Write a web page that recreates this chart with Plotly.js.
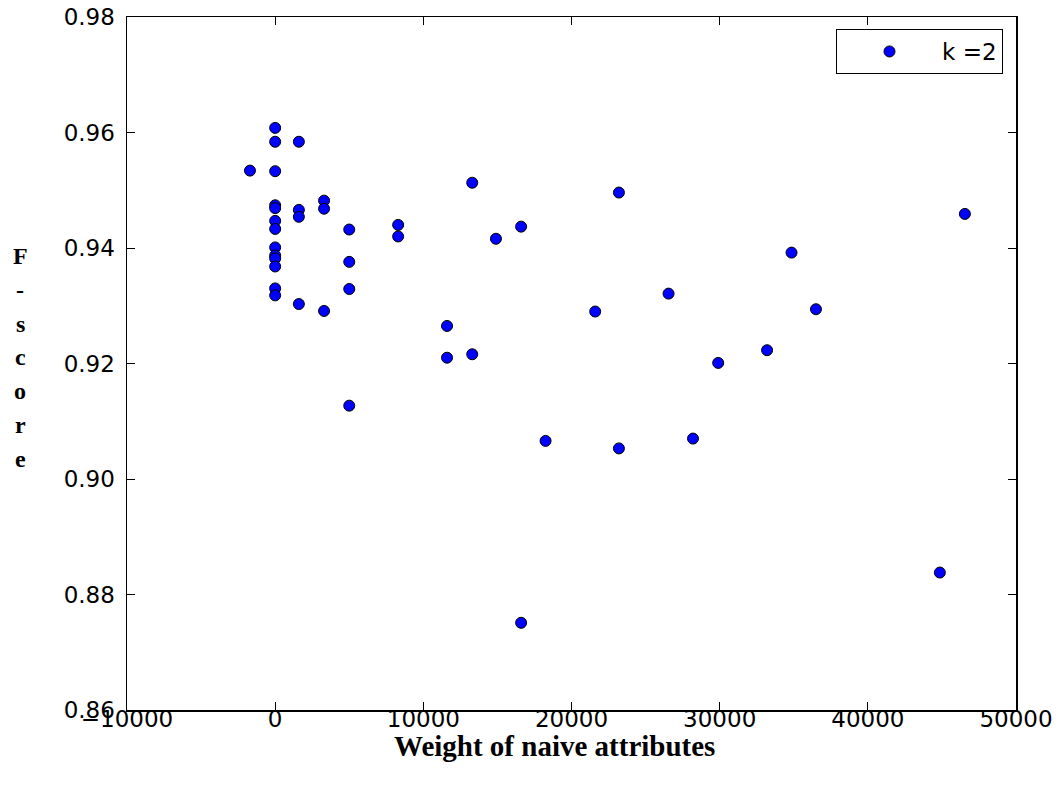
<!DOCTYPE html>
<html>
<head>
<meta charset="utf-8">
<script src="https://cdn.plot.ly/plotly-3.0.1.min.js"></script>
<style>html,body{margin:0;padding:0;background:#fff;}</style>
</head>
<body>
<div id="chart" style="width:1059px;height:785px;"></div>
<script>
// Weight of naive attributes (x) and F-score (y), k = 2
const xWeight = [
  0, 0, 0, 0, 0, 0, 0, 0, 0, 0, 0, 0, 0,
  -1700,
  1600, 1600, 1600, 1600,
  3300, 3300, 3300,
  5000, 5000, 5000, 5000,
  8300, 8300,
  11600, 11600,
  13300, 13300,
  14900,
  16600, 16600,
  18250,
  21600,
  23200, 23200,
  26550,
  28200,
  29900,
  33200,
  34850,
  36500,
  44860,
  46550
];
const fScore = [
  0.9608, 0.9584, 0.9533, 0.9474, 0.9469, 0.9447, 0.9433, 0.9401, 0.9387, 0.9382, 0.9368, 0.9330, 0.9318,
  0.9534,
  0.9584, 0.9466, 0.9454, 0.9303,
  0.9482, 0.9468, 0.9291,
  0.9432, 0.9376, 0.9329, 0.9127,
  0.9440, 0.9420,
  0.9265, 0.9210,
  0.9513, 0.9216,
  0.9416,
  0.9437, 0.8751,
  0.9066,
  0.9290,
  0.9496, 0.9053,
  0.9321,
  0.9070,
  0.9201,
  0.9223,
  0.9392,
  0.9294,
  0.8838,
  0.9459
];
const seriesName = 'k =2';
const xTitle = 'Weight of naive attributes';
const yTitleLetters = ['F', '-', 's', 'c', 'o', 'r', 'e'];
const xRange = [-10000, 50000];
const yRange = [0.86, 0.98];

const W = 1059, H = 785;
const M = {l: 127, r: 43, t: 17, b: 75};
const plotH = H - M.t - M.b;
const plotW = W - M.l - M.r;

const trace = {
  type: 'scatter',
  mode: 'markers',
  name: seriesName,
  x: xWeight,
  y: fScore,
  marker: {color: '#0000ff', size: 11, line: {color: '#000000', width: 1}},
  cliponaxis: false
};

const annotations = [];
// vertical, stacked letters for the y title
yTitleLetters.forEach((ch, i) => {
  annotations.push({
    text: '<b>' + ch + '</b>',
    xref: 'paper', yref: 'paper',
    x: (20 - M.l) / plotW,
    y: 1 - ((256 + i * 33.8) - M.t) / plotH,
    xanchor: 'center', yanchor: 'middle',
    showarrow: false,
    font: {family: 'Liberation Serif', size: 24, color: '#000'}
  });
});
annotations.push({
  text: '<b>' + xTitle + '</b>',
  xref: 'paper', yref: 'paper',
  x: (554 - M.l) / plotW,
  y: 1 - (746 - M.t) / plotH,
  xanchor: 'center', yanchor: 'middle',
  showarrow: false,
  font: {family: 'Liberation Serif', size: 29, color: '#000'}
});

const axisCommon = {
  showline: true, linecolor: '#000', linewidth: 1.5, mirror: 'ticks',
  ticks: 'inside', ticklen: 8, tickwidth: 1, tickcolor: '#000',
  showgrid: false, zeroline: false,
  tickfont: {family: 'DejaVu Sans', size: 23, color: '#000'}
};

const layout = {
  width: W, height: H,
  margin: M,
  paper_bgcolor: '#fff', plot_bgcolor: '#fff',
  showlegend: true,
  xaxis: Object.assign({}, axisCommon, {range: xRange, dtick: 10000, tick0: 0, tickformat: 'd', ticklabelstandoff: -12}),
  yaxis: Object.assign({}, axisCommon, {range: yRange, dtick: 0.02, tick0: 0.86, tickformat: '.2f', ticklabelstandoff: 6}),
  legend: {
    x: (1003 - M.l) / plotW, xanchor: 'right',
    y: 1 - (29 - M.t) / plotH, yanchor: 'top',
    bgcolor: '#fff', bordercolor: '#000', borderwidth: 1,
    font: {family: 'DejaVu Sans', size: 23, color: '#000'},
    itemwidth: 95
  },
  annotations: annotations
};

Plotly.newPlot('chart', [trace], layout, {displayModeBar: false, staticPlot: true});
</script>
</body>
</html>
